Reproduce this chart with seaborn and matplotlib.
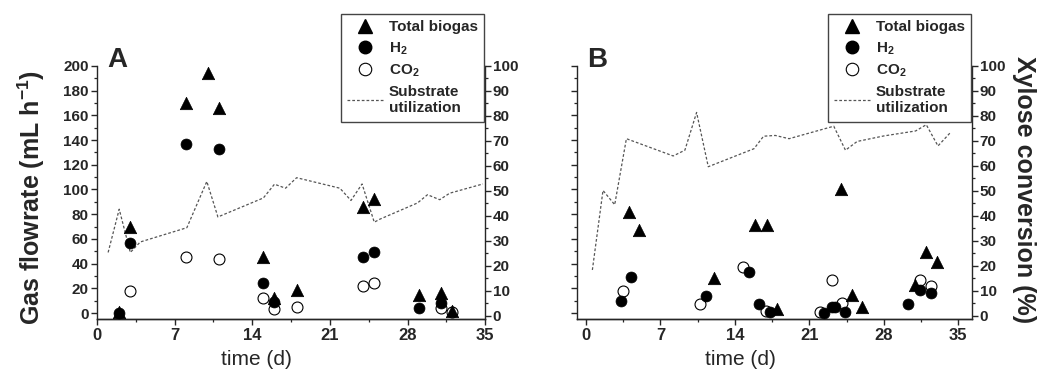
import numpy as np
import pandas as pd
import matplotlib
matplotlib.use("Agg")
import matplotlib.pyplot as plt
from matplotlib.lines import Line2D
from matplotlib.ticker import MultipleLocator
import seaborn as sns

# ---- panel A data ----
a_biogas_t = [2, 3, 8, 10, 11, 15, 16, 18, 24, 25, 29, 31, 32]
a_biogas = [1, 70, 170, 194, 166, 45, 12, 19, 86, 92, 15, 16, 2]
a_h2_t = [2, 3, 8, 11, 15, 16, 24, 25, 29, 31]
a_h2 = [0, 57, 137, 133, 24, 9, 45, 49, 4, 8]
a_co2_t = [3, 8, 11, 15, 16, 18, 24, 25, 31, 32]
a_co2 = [18, 45, 44, 12, 3, 5, 22, 24, 4, 1]
a_sub_t = [1, 2, 3, 3.9, 8.1, 9.9, 10.9, 15, 16, 17, 18, 21.9, 22.9, 23.9, 25, 25.5, 28.9, 29.8, 30.9, 31.8, 34.8]
a_sub = [25.4, 42.7, 25.4, 29.6, 35.3, 53.8, 39.6, 47.2, 52.7, 51.1, 55.3, 51.1, 46.2, 52.8, 37.5, 38.7, 45.2, 48.5, 46.5, 49.1, 52.8]

# ---- panel B data ----
b_biogas_t = [4, 5, 12, 15.9, 17, 18, 24, 25, 26, 30.9, 32, 33]
b_biogas = [82, 67, 28, 71, 71, 3, 100, 15, 5, 23, 49, 41]
b_h2_t = [3.3, 4.2, 11.3, 15.3, 16.3, 17.3, 22.4, 23.1, 23.4, 24.4, 30.3, 31.4, 32.4]
b_h2 = [10, 29, 14, 33, 7, 1, 0, 5, 5, 1, 7, 19, 16]
b_co2_t = [3.5, 10.7, 14.8, 16.9, 22.0, 23.1, 24.1, 31.4, 32.4]
b_co2 = [18, 7, 37.5, 1.5, 1, 27, 8, 27, 22]
b_sub_t = [0.6, 1.6, 2.7, 3.8, 8.2, 9.3, 10.4, 11.5, 15.8, 16.7, 17.8, 19.1, 23.3, 24.4, 25.5, 28, 31, 32, 33.1, 34.3]
b_sub = [18.4, 50.2, 44.5, 70.9, 64, 66.3, 81.4, 59.7, 66.9, 71.9, 72.2, 70.9, 75.9, 66.3, 69.8, 72, 74, 76.5, 68, 73.5]

sns.set_style("ticks")
plt.rcParams["font.family"] = ["Liberation Sans", "DejaVu Sans"]
plt.rcParams["font.weight"] = "bold"
plt.rcParams["mathtext.fontset"] = "custom"
plt.rcParams["mathtext.rm"] = "Liberation Sans:bold"
plt.rcParams["mathtext.it"] = "Liberation Sans:bold"
plt.rcParams["mathtext.bf"] = "Liberation Sans:bold"
plt.rcParams["mathtext.default"] = "rm"

fig = plt.figure(figsize=(10.49, 3.73), dpi=100)

ax_a = fig.add_axes([0.0925, 0.1442, 0.37, 0.679])
ax_b = fig.add_axes([0.550, 0.1442, 0.3766, 0.679])

line_kw = dict(color="#555555", lw=0.9, linestyle=(0, (2.2, 1.6)))


def draw(ax, bt, bv, ht, hv, ct, cv, st, sv, xlim, left_labels, right_labels):
    ax2 = ax.twinx()
    sns.lineplot(x=st, y=sv, ax=ax2, **line_kw)
    sns.scatterplot(x=ct, y=cv, ax=ax, marker="o", s=62, facecolor="white",
                    edgecolor="black", linewidth=0.8, zorder=3)
    sns.scatterplot(x=ht, y=hv, ax=ax, marker="o", s=62, color="black",
                    edgecolor="black", linewidth=0.5, zorder=4)
    sns.scatterplot(x=bt, y=bv, ax=ax, marker="^", s=80, color="black",
                    edgecolor="black", linewidth=0.5, zorder=5)
    # main axes above twin for markers
    ax.set_zorder(ax2.get_zorder() + 1)
    ax.patch.set_visible(False)

    ax.set_xlim(*xlim)
    ax.set_ylim(-5, 200)
    ax2.set_ylim(-1.3, 100)
    ax.xaxis.set_major_locator(MultipleLocator(7))
    ax.xaxis.set_minor_locator(MultipleLocator(3.5))
    ax.yaxis.set_major_locator(MultipleLocator(20))
    ax.yaxis.set_minor_locator(MultipleLocator(10))
    ax2.yaxis.set_major_locator(MultipleLocator(10))
    ax2.yaxis.set_minor_locator(MultipleLocator(5))
    ax.set_xticks([0, 7, 14, 21, 28, 35])

    for a in (ax, ax2):
        a.spines["top"].set_visible(False)
        for s in a.spines.values():
            s.set_linewidth(1.0)
        a.tick_params(which="major", direction="out", length=4.5, width=1.0)
        a.tick_params(which="minor", direction="out", length=2.5, width=0.9)
    ax2.spines["left"].set_visible(False)
    ax.spines["right"].set_visible(False)

    ax.tick_params(axis="x", labelsize=12, pad=2)
    ax.tick_params(axis="y", labelsize=11, pad=1.5)
    ax2.tick_params(axis="y", labelsize=11, pad=1)
    if not left_labels:
        ax.tick_params(axis="y", labelleft=False)
    if not right_labels:
        ax2.tick_params(axis="y", labelright=False)
    for lab in ax.get_xticklabels() + ax.get_yticklabels() + ax2.get_yticklabels():
        lab.set_fontweight("bold")

    ax.set_xlabel("time (d)", fontsize=15, fontweight="normal")
    ax.set_ylabel("")
    ax2.set_ylabel("")
    return ax2


ax2_a = draw(ax_a, a_biogas_t, a_biogas, a_h2_t, a_h2, a_co2_t, a_co2,
             a_sub_t, a_sub, (0, 35), True, True)
ax2_b = draw(ax_b, b_biogas_t, b_biogas, b_h2_t, b_h2, b_co2_t, b_co2,
             b_sub_t, b_sub, (-0.85, 36.3), False, True)

ax_a.xaxis.set_label_coords(0.41, -0.12)
ax_b.xaxis.set_label_coords(0.415, -0.12)

fig.text(31 / 1049, 0.4705, "Gas flowrate (mL h$^{-1}$)", rotation=90,
         ha="center", va="center", fontsize=18, fontweight="bold")
fig.text(1024.5 / 1049, 0.4906, "Xylose conversion (%)", rotation=270,
         ha="center", va="center", fontsize=18, fontweight="bold")

fig.text(0.102, 0.839, "A", ha="left", va="center", fontsize=20, fontweight="bold")
fig.text(0.5596, 0.839, "B", ha="left", va="center", fontsize=20, fontweight="bold")

handles = [
    Line2D([], [], marker="^", color="black", linestyle="none", markersize=10),
    Line2D([], [], marker="o", color="black", linestyle="none", markersize=9),
    Line2D([], [], marker="o", markerfacecolor="white", markeredgecolor="black",
           markeredgewidth=0.8, linestyle="none", markersize=9),
    Line2D([], [], **line_kw),
]
labels = ["Total biogas", "H$_2$", "CO$_2$", "Substrate\nutilization"]

for xr in (484 / 1049, 971 / 1049):
    leg = fig.legend(handles, labels, loc="upper right",
                     bbox_to_anchor=(xr, 1 - 14 / 373), bbox_transform=fig.transFigure,
                     frameon=True, fancybox=False, framealpha=1, edgecolor="#444444",
                     prop={"weight": "bold", "size": 11}, handlelength=2.4,
                     handletextpad=0.35, labelspacing=0.4, borderpad=0.4,
                     borderaxespad=0)
    leg.get_frame().set_linewidth(1.0)

fig.savefig("out.png", dpi=100)
